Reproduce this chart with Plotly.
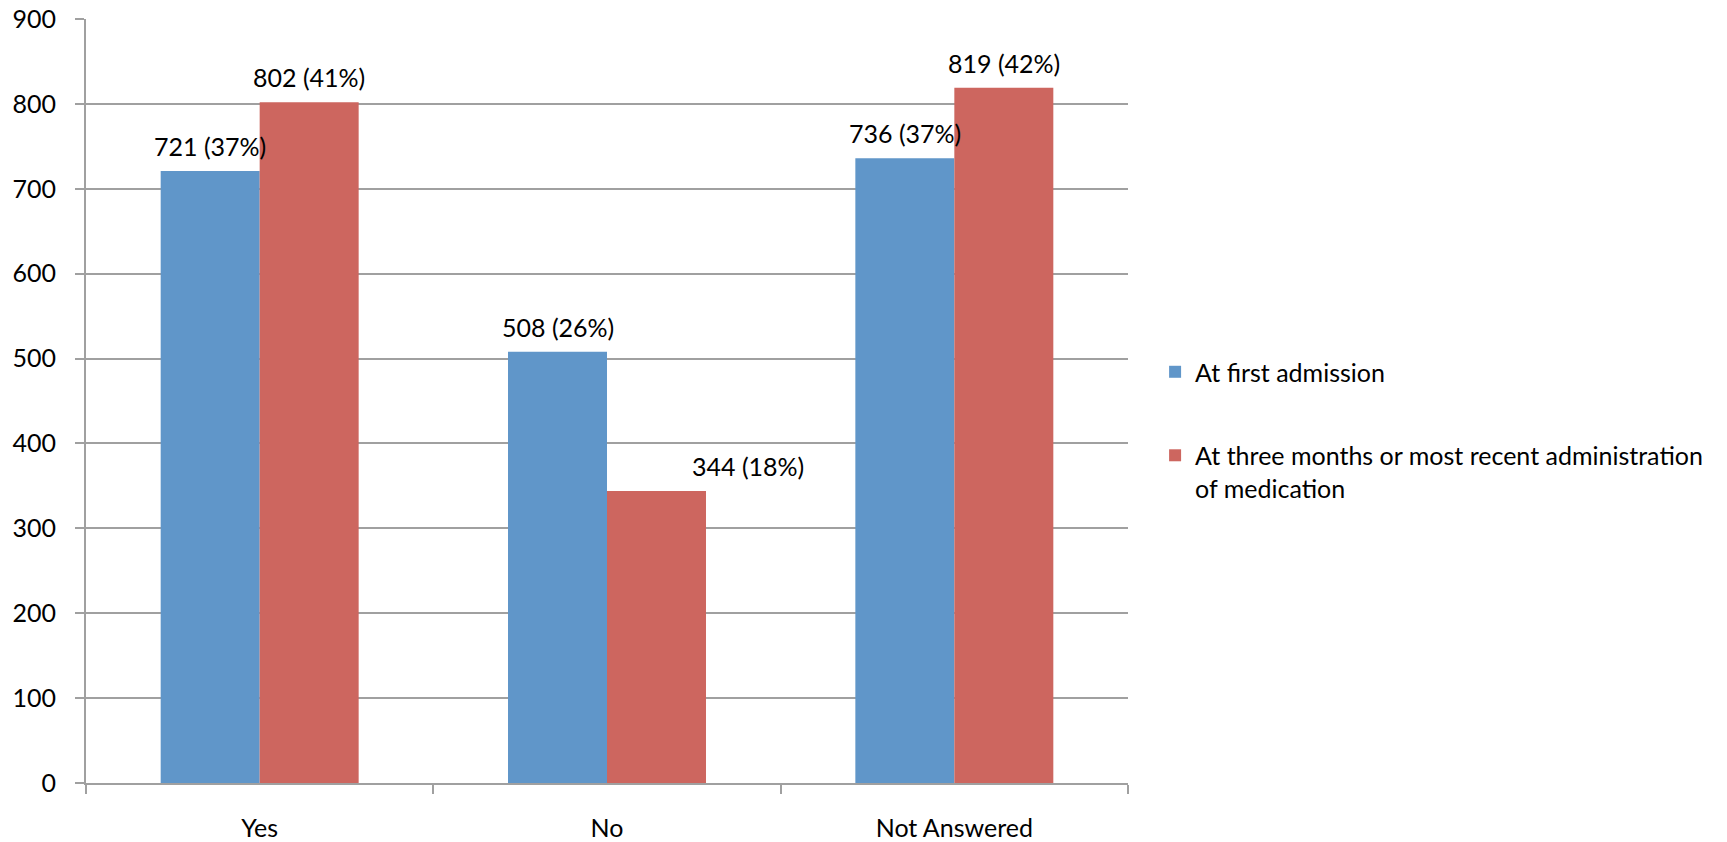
import plotly.graph_objects as go

categories = ["Yes", "No", "Not Answered"]
first_admission = [721, 508, 736]
first_pct = [37, 26, 37]
three_months = [802, 344, 819]
three_pct = [41, 18, 42]
series_names = ["At first admission",
                "At three months or most recent administration<br>of medication"]
y_ticks = [0, 100, 200, 300, 400, 500, 600, 700, 800, 900]

FONT = "Lato"
BLUE = "#6096C9"
RED = "#CD665F"
GRID = "#A0A0A0"

W, H = 1727, 842
ML, MR, MT, MB = 86, 599, 19, 59
BARGAP = 0.43
# extra horizontal nudge (px) of individual data labels, as in the original
LABEL_NUDGE = {(1, "No"): 92}

fig = go.Figure()
fig.add_trace(go.Bar(
    x=categories, y=first_admission, name=series_names[0],
    marker=dict(color=BLUE, line=dict(width=0)),
    legendgroup="a",
))
fig.add_trace(go.Bar(
    x=categories, y=three_months, name=series_names[1],
    marker=dict(color=RED, line=dict(width=0)),
    legendgroup="b",
))

# data labels centred over each bar
cat_px = (W - ML - MR) / len(categories)
bar_px = cat_px * (1 - BARGAP) / 2
for si, (vals, pcts, sign) in enumerate(((first_admission, first_pct, -1),
                                         (three_months, three_pct, 1))):
    for c, v, p in zip(categories, vals, pcts):
        fig.add_annotation(
            x=c, y=v, xref="x", yref="y", text=f"{v} ({p}%)",
            showarrow=False, xanchor="center", yanchor="bottom",
            xshift=sign * bar_px / 2 + LABEL_NUDGE.get((si, c), 0), yshift=8,
            font=dict(family=FONT, size=25, color="#000000"),
        )

fig.update_layout(
    width=W, height=H,
    margin=dict(l=ML, r=MR, t=MT, b=MB, autoexpand=False),
    paper_bgcolor="white", plot_bgcolor="white",
    barmode="group", bargap=BARGAP, bargroupgap=0,
    font=dict(family=FONT, size=25, color="#000000"),
    showlegend=True,
    legend=dict(
        x=1.026, xanchor="left", y=0.462, yanchor="middle",
        font=dict(family=FONT, size=25, color="#000000"),
        traceorder="grouped", tracegroupgap=48, valign="top",
        bgcolor="rgba(0,0,0,0)",
    ),
    xaxis=dict(
        showline=True, linecolor=GRID, linewidth=2,
        ticks="outside", ticklen=9, tickcolor=GRID, tickwidth=2,
        tickson="boundaries", ticklabelstandoff=22,
        tickfont=dict(family=FONT, size=25),
        showgrid=False,
    ),
    yaxis=dict(
        range=[0, 900], tickvals=y_ticks,
        showline=True, linecolor=GRID, linewidth=2,
        ticks="outside", ticklen=9, tickcolor=GRID, tickwidth=2,
        ticklabelstandoff=14,
        showgrid=True, gridcolor=GRID, gridwidth=2,
        zeroline=False,
        tickfont=dict(family=FONT, size=25),
    ),
)

fig.write_html("out.html")
